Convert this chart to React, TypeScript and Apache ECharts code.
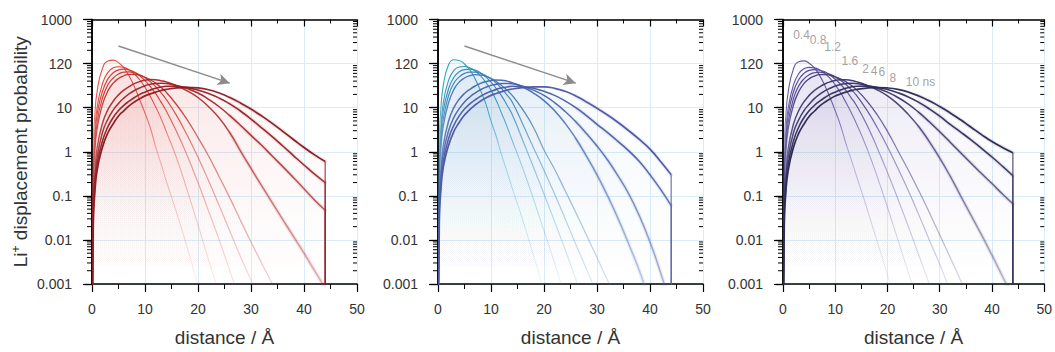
import React, { useEffect, useRef } from 'react';
import * as echarts from 'echarts';

// distance samples (Å) shared by all curves
const distance = [0, 0.25, 0.5, 1, 2, 3, 4, 5, 6, 7, 8, 9, 10, 11, 12, 13, 14, 16, 18, 20, 22, 24, 26, 28, 30, 32, 34, 36, 38, 40, 42, 44];

const timeLabels = ['0.4', '0.8', '1.2', '1.6', '2', '4', '6', '8', '10 ns'];

const N = null;
// Panel 1 (red)
const redCurves: (number | null)[][] = [
  [1e-5, 1.5, 6, 25, 80, 115, 120, 105, 80, 52, 30, 15, 7.5, 3.5, 1.3, 0.55, 0.22, 0.04, 0.0065, 0.0009, 0.0001, N, N, N, N, N, N, N, N, N, N, N],
  [1e-5, 0.6, 2.6, 11, 36, 63, 80, 85, 82, 72, 58, 43, 29, 18, 10.5, 5.8, 2.9, 0.7, 0.13, 0.022, 0.0035, 0.0006, 0.0001, N, N, N, N, N, N, N, N, N],
  [1e-5, 0.4, 1.7, 7.5, 24, 45, 62, 72, 75, 72, 64, 53, 41, 30, 21, 13.5, 8.5, 2.8, 0.8, 0.2, 0.045, 0.01, 0.002, 0.0004, 0.0001, N, N, N, N, N, N, N],
  [1e-5, 0.25, 1.1, 5, 17, 33, 47, 58, 64, 65, 62, 56, 48, 39, 30, 22, 15.5, 6.5, 2.3, 0.75, 0.22, 0.06, 0.016, 0.0042, 0.0012, 0.0003, 0.0001, N, N, N, N, N],
  [1e-5, 0.18, 0.8, 3.5, 12, 24, 36, 46, 53, 57, 57, 54, 49, 43, 36, 29, 22.5, 11.5, 5.2, 2.1, 0.8, 0.27, 0.09, 0.028, 0.009, 0.003, 0.001, 0.0003, 0.0001, N, N, N],
  [1e-5, 0.07, 0.3, 1.3, 4.5, 9, 14, 19.5, 25, 30, 35, 39, 42, 43.5, 43, 41, 38.5, 31.5, 24, 17, 10.5, 5.8, 2.7, 1.05, 0.42, 0.17, 0.07, 0.029, 0.012, 0.005, 0.002, 0.0008],
  [1e-5, 0.05, 0.2, 0.8, 2.8, 5.5, 8.8, 12.5, 16.5, 20.5, 24.5, 28, 31.5, 34, 35.5, 36, 35.5, 31.5, 27, 21.5, 15.5, 10.5, 6.6, 4, 2.35, 1.4, 0.8, 0.46, 0.26, 0.145, 0.08, 0.047],
  [1e-5, 0.035, 0.14, 0.55, 1.8, 3.7, 6, 8.6, 11.3, 14, 17, 20, 22.5, 25, 27.5, 29.5, 30.5, 30.5, 28.5, 25, 21, 16.5, 12.2, 8.4, 5.5, 3.5, 2.2, 1.35, 0.82, 0.5, 0.31, 0.2],
  [1e-5, 0.025, 0.1, 0.4, 1.3, 2.7, 4.3, 6.5, 8.5, 11, 13.5, 16, 18.5, 20.5, 22.5, 24.5, 26, 28, 28.8, 28, 25.5, 21.5, 17, 12.8, 9.3, 6.5, 4.4, 2.9, 1.9, 1.25, 0.85, 0.6],
];
// Panel 2 (blue)
const blueCurves: (number | null)[][] = [
  [1e-5, 2, 8, 32, 95, 122, 118, 98, 72, 45, 25, 12.5, 5, 2.2, 0.85, 0.36, 0.15, 0.028, 0.0045, 0.0007, 0.0001, N, N, N, N, N, N, N, N, N, N, N],
  [1e-5, 0.7, 3, 13, 42, 70, 84, 86, 80, 68, 53, 38, 25, 14.5, 7.5, 3.8, 1.8, 0.42, 0.085, 0.016, 0.003, 0.0005, 0.0001, N, N, N, N, N, N, N, N, N],
  [1e-5, 0.45, 2, 8.5, 27, 49, 65, 73, 75, 71, 62, 50, 38, 27, 18.5, 11.5, 7, 1.8, 0.45, 0.11, 0.026, 0.006, 0.0013, 0.0003, N, N, N, N, N, N, N, N],
  [1e-5, 0.3, 1.3, 5.5, 19, 36, 50, 60, 64, 64, 60, 53, 45, 36, 27, 19.5, 13.5, 4.2, 1.25, 0.38, 0.11, 0.03, 0.008, 0.0022, 0.0006, 0.00015, N, N, N, N, N, N],
  [1e-5, 0.2, 0.9, 3.8, 13, 26, 38, 47, 53, 56, 55, 52, 46, 39, 32, 25, 19, 9, 3.6, 1.1, 0.4, 0.13, 0.042, 0.013, 0.004, 0.0012, 0.0004, 0.0001, N, N, N, N],
  [1e-5, 0.08, 0.33, 1.4, 5, 10, 15.5, 21, 26, 31, 35.5, 39, 41.5, 42.5, 42, 40, 37, 29.5, 21.5, 14.5, 8.5, 4.4, 2, 0.8, 0.3, 0.1, 0.03, 0.008, 0.002, 0.0004, 0.0001, N],
  [1e-5, 0.055, 0.22, 0.9, 3, 6, 9.5, 13.5, 17.5, 21.5, 25.5, 29, 32, 34, 35.5, 35.5, 35, 30.5, 25, 19, 13, 8.2, 4.8, 2.6, 1.35, 0.65, 0.28, 0.11, 0.035, 0.009, 0.0018, 0.0003],
  [1e-5, 0.04, 0.15, 0.6, 2, 4, 6.5, 9.3, 12.2, 15, 18, 21, 23.5, 26, 28, 29.5, 30.5, 30, 27.5, 23.5, 19, 14.2, 10, 6.6, 4.2, 2.7, 1.7, 1.05, 0.6, 0.3, 0.14, 0.06],
  [1e-5, 0.028, 0.11, 0.45, 1.4, 2.9, 4.6, 6.8, 9, 11.5, 14, 16.5, 19, 21, 23, 25, 26.5, 28.5, 29.5, 29.5, 27.5, 23.5, 18.5, 13.5, 9.7, 6.8, 4.6, 3, 1.9, 1.15, 0.6, 0.3],
];
// Panel 3 (purple)
const purpleCurves: (number | null)[][] = [
  [1e-5, 1.4, 5.5, 23, 76, 110, 115, 102, 80, 54, 32, 17, 8.5, 4, 1.6, 0.7, 0.3, 0.055, 0.0095, 0.0016, 0.00025, N, N, N, N, N, N, N, N, N, N, N],
  [1e-5, 0.55, 2.4, 10, 33, 59, 76, 82, 80, 72, 60, 46, 33, 22, 13.5, 8, 4.5, 1.25, 0.28, 0.055, 0.01, 0.0018, 0.0003, N, N, N, N, N, N, N, N, N],
  [1e-5, 0.38, 1.6, 7, 23, 43, 60, 70, 73, 71, 65, 55, 44, 34, 25, 17, 11.5, 4.2, 1.25, 0.34, 0.085, 0.02, 0.0045, 0.001, 0.0002, N, N, N, N, N, N, N],
  [1e-5, 0.24, 1.05, 4.7, 16, 31, 45, 56, 62, 64, 62, 57, 50, 42, 34, 26, 19.5, 9, 3.6, 1.3, 0.42, 0.13, 0.037, 0.01, 0.0028, 0.0007, 0.0002, N, N, N, N, N],
  [1e-5, 0.17, 0.75, 3.3, 11.5, 23, 35, 45, 52, 56, 56.5, 54, 50, 45, 39, 32.5, 26, 14.5, 7, 2.9, 1.05, 0.38, 0.13, 0.042, 0.013, 0.004, 0.0012, 0.0003, N, N, N, N],
  [1e-5, 0.065, 0.28, 1.2, 4.2, 8.5, 13.5, 19, 24.5, 29.5, 34.5, 38.5, 41.5, 43, 43, 41.5, 39, 32.5, 25.5, 18.5, 12, 7, 3.7, 1.7, 0.72, 0.28, 0.1, 0.036, 0.013, 0.0045, 0.0015, 0.0005],
  [1e-5, 0.045, 0.19, 0.75, 2.7, 5.3, 8.5, 12, 16, 20, 24, 27.5, 31, 33.5, 35, 35.8, 35.5, 32, 27.5, 22.5, 17, 12, 7.8, 4.8, 2.85, 1.65, 0.95, 0.55, 0.32, 0.19, 0.11, 0.066],
  [1e-5, 0.033, 0.13, 0.52, 1.75, 3.6, 5.9, 8.5, 11.2, 14, 17, 20, 22.5, 25, 27.5, 29.5, 30.5, 30.8, 29, 25.8, 21.8, 17.5, 13.2, 9.4, 6.4, 4.2, 2.8, 1.85, 1.2, 0.76, 0.47, 0.285],
  [1e-5, 0.024, 0.1, 0.38, 1.25, 2.6, 4.2, 6.3, 8.3, 10.8, 13.3, 15.8, 18.3, 20.5, 22.5, 24.3, 25.8, 27.8, 28.6, 28, 26, 22.5, 18.4, 14.3, 10.6, 7.6, 5.3, 3.6, 2.45, 1.7, 1.25, 0.95],
];

const xTicks = [0, 10, 20, 30, 40, 50];
const yTickLabels = ['0.001', '0.01', '0.1', '1', '10', '120', '1000'];
const minorMultipliers = [2, 3, 4, 5, 6, 7, 8, 9];
const minorDecades = [0.001, 0.01, 0.1, 1, 10, 100];

const arrowStart = [5, 250];
const arrowEnd = [26, 36];

const annoX = [1.95, 5.1, 7.9, 11.2, 15.15, 16.8, 18.3, 20.4, 23.5];
const annoY = [443, 351, 232, 112, 76, 67, 65, 46, 39];

const redColors = ['#e5493d', '#dc4238', '#d33c34', '#c93530', '#bf2f2c', '#aa2729', '#9e2226', '#941f24', '#8a1c22'];
const blueColors = ['#2aa0c4', '#2f96c0', '#348bbb', '#3a82b7', '#3f78b3', '#4669ab', '#4a62a8', '#4c5ca6', '#4e57a3'];
const purpleColors = ['#5e50a2', '#584b9a', '#524692', '#4c418a', '#463d82', '#3b3570', '#363166', '#312d5c', '#2c2a52'];

const FONT = '"Liberation Sans", Arial, Helvetica, sans-serif';
const GRID_TOP = 19.5;
const GRID_H = 266;
const GRID_W = 265;
const FLOOR = 1e-5;
const HALO_FROM = 26;

function rgba(hex: string, a: number) {
  const h = hex.replace('#', '');
  const r = parseInt(h.slice(0, 2), 16);
  const g = parseInt(h.slice(2, 4), 16);
  const b = parseInt(h.slice(4, 6), 16);
  return `rgba(${r},${g},${b},${a})`;
}

export default function App() {
  const ref = useRef<HTMLDivElement>(null);
  useEffect(() => {
    if (!ref.current) return;
    const chart = echarts.init(ref.current, undefined, { renderer: 'svg' });

    const panels = [
      { curves: redCurves, colors: redColors, fill: '#d94a4a', left: 92, arrow: true, anno: false },
      { curves: blueCurves, colors: blueColors, fill: '#3f86c2', left: 438, arrow: true, anno: false },
      { curves: purpleCurves, colors: purpleColors, fill: '#7565b0', left: 783, arrow: false, anno: true },
    ];
    const widths = [1.1, 1.1, 1.2, 1.2, 1.3, 1.5, 1.5, 1.6, 1.7];
    const midA = [0.4, 0.45, 0.5, 0.55, 0.6, 0.75, 0.85, 0.95, 1];
    const botA = [0.08, 0.1, 0.13, 0.16, 0.2, 0.28, 0.4, 0.6, 0.7];
    const minorValues: number[] = [];
    minorDecades.forEach((d) => minorMultipliers.forEach((m) => minorValues.push(+(m * d).toPrecision(3))));

    const grids: any[] = [];
    const xAxes: any[] = [];
    const yAxes: any[] = [];
    const series: any[] = [];
    const axisLine = { show: true, lineStyle: { color: '#000', width: 1.5 } };
    const splitLine = { show: true, lineStyle: { color: '#d9ecf7', width: 1 } };

    const lineGrad = (c: string, j: number) =>
      new echarts.graphic.LinearGradient(0, GRID_TOP, 0, GRID_TOP + GRID_H, [
        { offset: 0, color: rgba(c, 1) },
        { offset: 0.3, color: rgba(c, 0.95) },
        { offset: 0.5, color: rgba(c, midA[j]) },
        { offset: 1, color: rgba(c, botA[j]) },
      ], true);

    panels.forEach((p, i) => {
      grids.push({ left: p.left, top: GRID_TOP, width: GRID_W, height: GRID_H, containLabel: false });
      xAxes.push({
        type: 'value', gridIndex: i, min: 0, max: 50, interval: 10, position: 'bottom',
        axisLine, splitLine,
        axisTick: { show: true, inside: false, length: 8, lineStyle: { color: '#000', width: 1.2 } },
        minorTick: { show: true, splitNumber: 2, length: 5, lineStyle: { color: '#000', width: 1 } },
        axisLabel: { fontSize: 14, color: '#333', fontFamily: FONT, margin: 18, formatter: (v: number) => (xTicks.includes(v) ? String(v) : '') },
        name: 'distance / Å', nameLocation: 'middle', nameGap: 44,
        nameTextStyle: { fontSize: 19, color: '#333', fontFamily: FONT },
      });
      xAxes.push({
        type: 'value', gridIndex: i, min: 0, max: 50, interval: 10, position: 'top',
        axisLine, splitLine: { show: false },
        axisTick: { show: true, inside: true, length: 7, lineStyle: { color: '#000', width: 1.2 } },
        minorTick: { show: true, splitNumber: 2, length: 4, lineStyle: { color: '#000', width: 1 } },
        axisLabel: { show: false },
      });
      yAxes.push({
        type: 'log', logBase: 10, gridIndex: i, min: 0.001, max: 1000, splitNumber: 6, position: 'left',
        axisLine, splitLine,
        axisTick: { show: true, inside: false, length: 9, lineStyle: { color: '#000', width: 1.2 } },
        minorTick: { show: false },
        axisLabel: {
          fontSize: 14, color: '#333', fontFamily: FONT, margin: 20,
          formatter: (v: number) => yTickLabels[Math.round(Math.log10(v)) + 3] ?? '',
        },
        ...(i === 0
          ? {
              name: 'Li{sup|+} displacement probability', nameLocation: 'middle', nameGap: 62,
              nameTextStyle: { fontSize: 19, color: '#333', fontFamily: FONT, rich: { sup: { fontSize: 12, color: '#333', fontFamily: FONT, verticalAlign: 'top', padding: [0, 0, 8, 0] } } },
            }
          : {}),
      });
      yAxes.push({
        type: 'log', logBase: 10, gridIndex: i, min: 0.001, max: 1000, splitNumber: 6, position: 'right',
        axisLine, splitLine: { show: false },
        axisTick: { show: true, inside: true, length: 7, lineStyle: { color: '#000', width: 1.2 } },
        minorTick: { show: false },
        axisLabel: { show: false },
      });

      p.curves.forEach((curve, j) => {
        const pts: number[][] = [];
        distance.forEach((x, k) => {
          const v = curve[k];
          if (v != null) pts.push([x, v]);
        });
        const last = pts[pts.length - 1];
        const c = p.colors[j];
        // statistical-noise halo along the long-distance tail of the later curves
        if (j >= 5) {
          series.push({
            type: 'line', xAxisIndex: 2 * i, yAxisIndex: 2 * i, data: pts.filter((d) => d[0] >= HALO_FROM),
            showSymbol: false, symbol: 'none', smooth: 0.5, clip: true, silent: true, z: 1,
            lineStyle: { width: 4, color: rgba(c, 0.11), cap: 'round' },
          });
        }
        const s: any = {
          type: 'line', xAxisIndex: 2 * i, yAxisIndex: 2 * i, data: pts,
          showSymbol: false, symbol: 'none', smooth: 0.5, clip: true, silent: true, z: 2 + j,
          lineStyle: { width: widths[j], color: lineGrad(c, j) },
          areaStyle: {
            origin: 'start',
            color: new echarts.graphic.LinearGradient(0, GRID_TOP, 0, GRID_TOP + GRID_H, [
              { offset: 0, color: rgba(p.fill, 0.07) },
              { offset: 0.4, color: rgba(p.fill, 0.035) },
              { offset: 0.75, color: rgba(p.fill, 0.01) },
              { offset: 1, color: rgba(p.fill, 0) },
            ], true),
          },
        };
        if (j === 0 && p.arrow) {
          s.markLine = {
            silent: true, symbol: ['none', 'arrow'], symbolSize: [9, 12], animation: false,
            lineStyle: { color: '#8c8c8c', width: 1.5, type: 'solid' }, label: { show: false },
            emphasis: { disabled: true },
            data: [[{ coord: arrowStart }, { coord: arrowEnd }]],
          };
        }
        series.push(s);
        // the curve drops to zero at the simulation-box limit (vertical edge)
        if (last[0] === 44 && last[1] >= 0.001) {
          series.push({
            type: 'line', xAxisIndex: 2 * i, yAxisIndex: 2 * i, data: [last, [44, FLOOR]],
            showSymbol: false, symbol: 'none', smooth: false, clip: true, silent: true, z: 2 + j,
            lineStyle: { width: 1.3, color: rgba(c, 0.75) },
          });
        }
      });

      series.push({
        type: 'custom', xAxisIndex: 2 * i, yAxisIndex: 2 * i, silent: true, clip: false, z: 10,
        data: minorValues.map((v) => [0, v]),
        renderItem: (_params: any, api: any) => {
          const v = api.value(1);
          const l = api.coord([0, v]);
          const r = api.coord([50, v]);
          return {
            type: 'group',
            children: [
              { type: 'line', shape: { x1: l[0] - 5, y1: l[1], x2: l[0], y2: l[1] }, style: { stroke: '#000', lineWidth: 1 } },
              { type: 'line', shape: { x1: r[0] - 4, y1: r[1], x2: r[0], y2: r[1] }, style: { stroke: '#000', lineWidth: 1 } },
            ],
          };
        },
      });

      if (p.anno) {
        series.push({
          type: 'scatter', xAxisIndex: 2 * i, yAxisIndex: 2 * i, silent: true, symbolSize: 0, z: 20,
          itemStyle: { color: '#8a8a8a' },
          data: annoX.map((x, k) => ({ value: [x, annoY[k]], name: timeLabels[k] })),
          label: {
            show: true, position: [0, 0], align: 'left', verticalAlign: 'middle',
            formatter: (d: any) => d.name, fontSize: 12, color: '#8a8a8a', fontFamily: FONT,
            textBorderWidth: 0, textBorderColor: 'transparent', textShadowBlur: 0,
          },
        });
      }
    });

    chart.setOption({
      animation: false,
      backgroundColor: '#fff',
      grid: grids,
      xAxis: xAxes,
      yAxis: yAxes,
      series,
    });
    return () => chart.dispose();
  }, []);

  return <div ref={ref} style={{ position: 'fixed', left: 0, top: 0, width: 1055, height: 352 }} />;
}
